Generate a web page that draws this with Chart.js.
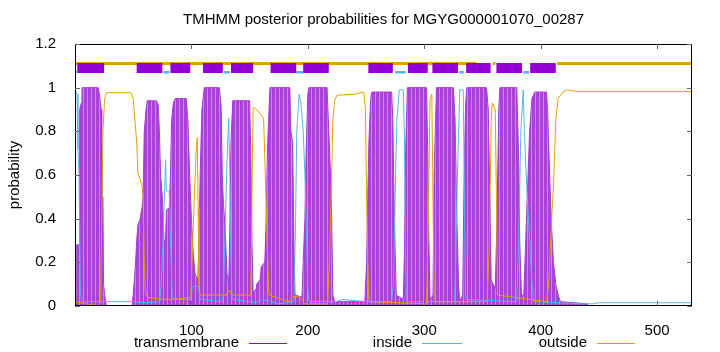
<!DOCTYPE html>
<html>
<head>
<meta charset="utf-8">
<script src="https://cdn.jsdelivr.net/npm/chart.js@4.4.1/dist/chart.umd.min.js"></script>
<style>
  html, body { margin: 0; padding: 0; background: #fff; }
</style>
</head>
<body>
<canvas id="tmhmmChart" width="720" height="352"></canvas>
<script>
// posterior probabilities: [residue, probability]
const tmProb = [
  [0,0.02],[1,0.02],[1.5,0.28],[3.5,0.28],[4,0.9],[5.5,0.93],[6,1.0],[20,1.0],[21,0.97],[22.5,0.9],[23,0.5],[24,0.5],[24.5,0.1],[26,0.03],[27,0],
  [49,0],[50,0.05],[51,0.12],[52,0.2],[53,0.3],[54,0.37],[56,0.4],[57.5,0.45],[58.5,0.5],[59.5,0.8],[61,0.9],[62,0.94],[70,0.94],[71.5,0.92],[72.5,0.8],
  [73.5,0.6],[75,0.5],[76.5,0.3],[77.8,0.3],[78.5,0.44],[81,0.45],[82,0.6],[83,0.85],[84.5,0.93],[86,0.95],[95.5,0.95],[97,0.85],[98.5,0.6],[100,0.4],
  [101.5,0.25],[103,0.15],[104.5,0.13],[105.5,0.12],[106.5,0.3],[107.5,0.6],[109,0.9],[111,1.0],[124,1.0],[125.5,0.92],[126.5,0.6],[127.5,0.47],[129,0.35],
  [130.5,0.15],[132,0.1],[133,0.35],[134,0.75],[135.5,0.94],[150,0.94],[151,0.7],[152,0.3],[153,0.06],[155.5,0.08],[156,0.1],[159,0.12],[160,0.18],
  [163,0.2],[164,0.35],[165.5,0.75],[167.5,1.0],[184.5,1.0],[185.5,0.8],[187,0.75],[188,0.3],[189,0.05],[195,0.04],[196,0.2],[197.5,0.4],[198.5,0.7],
  [200,0.97],[201,1.0],[216.5,1.0],[218,0.8],[219.5,0.6],[220.5,0.4],[221.5,0.05],[223,0.02],[249,0.02],[250.5,0.2],[251.5,0.5],[252.5,0.76],[254,0.95],
  [255,0.98],[272,0.98],[273,0.85],[274,0.5],[275,0.25],[276,0.05],[282,0.03],[283,0.25],[284,0.7],[285.5,1.0],[302,1.0],[303,0.7],[304,0.3],[305,0.03],
  [307.5,0.05],[308.5,0.6],[310.5,1.0],[325,1.0],[326.5,0.85],[328,0.4],[329.5,0.1],[330.5,0.02],[333,0.05],[334,0.5],[335.5,0.92],[336.5,1.0],
  [353.5,1.0],[355,0.9],[356.5,0.45],[357.5,0.12],[361,0.08],[362.5,0.4],[364,0.9],[365,1.0],[379.5,1.0],[381,0.7],[382,0.3],[383.5,0.05],[385.5,0.05],
  [386.5,0.2],[388.5,0.5],[390.5,0.8],[392.5,0.95],[395,0.98],[405,0.98],[406,0.9],[408,0.55],[409.5,0.35],[411,0.2],[413,0.1],[415,0.05],[417,0.02],
  [440,0.01],[441,0],[530,0]
];
const insideProb = [
  [0,0.98],[1,0.98],[1.8,0.97],[2.5,0.72],[3.5,0.6],[4.5,0.1],[5.5,0.02],[50,0.02],[60,0.015],[73,0.02],[74,0.1],[75.5,0.28],[77.8,0.67],[78.5,0.53],
  [81,0.52],[82,0.3],[83.5,0.05],[85,0.03],[99.5,0.03],[100.5,0.08],[102,0.09],[106,0.09],[107.5,0.03],[126,0.02],[127.5,0.05],[129,0.35],[130.5,0.65],
  [132,0.86],[133,0.6],[134,0.2],[135,0.03],[150,0.02],[155,0.015],[160,0.03],[165,0.025],[175,0.01],[188,0.02],[189.5,0.4],[190.5,0.8],[192.5,0.97],
  [194,0.93],[196,0.8],[197.5,0.6],[199,0.3],[200,0.08],[201,0.02],[224,0.02],[230,0.03],[250,0.02],[272,0.02],[273.5,0.1],[275,0.5],[276.5,0.85],
  [278.5,0.99],[282,0.99],[283,0.77],[283.8,0.3],[284.5,0.02],[326,0.02],[327,0.2],[328.5,0.6],[330.5,0.99],[333.5,0.99],[334.5,0.5],[335.5,0.03],
  [379.5,0.02],[381,0.3],[383,0.8],[385,0.99],[386,0.8],[388,0.55],[390,0.35],[392,0.15],[394,0.02],[436,0.01],[445,0.01],[450,0.015],[530,0.015]
];
const outsideProb = [
  [0,0.02],[20,0.0],[22,0.02],[23,0.4],[24,0.8],[25.5,0.95],[27,0.977],[48,0.977],[50,0.95],[51.5,0.85],[53,0.75],[54,0.61],[56,0.58],[57.5,0.55],
  [58.5,0.5],[59.5,0.2],[60.5,0.06],[62,0.04],[75,0.03],[85,0.03],[99.5,0.04],[101,0.28],[102.5,0.5],[104,0.7],[105,0.77],[105.8,0.45],[106.5,0.1],
  [107.5,0.05],[130,0.05],[131.5,0.07],[133,0.07],[134.5,0.05],[151,0.05],[152,0.5],[153,0.91],[156,0.9],[159,0.88],[162,0.86],[163.5,0.6],[165,0.3],
  [166.5,0.05],[184,0.02],[186,0.04],[192,0.045],[195,0.03],[197,0.01],[217,0.01],[218.5,0.2],[220,0.5],[221.5,0.85],[223,0.94],[225,0.965],[240,0.97],
  [248,0.98],[249.5,0.9],[250.5,0.5],[251.5,0.2],[252.5,0.02],[302,0.01],[303.5,0.4],[305,0.95],[306.5,0.97],[307.5,0.5],[308.5,0.02],[354,0.02],
  [356,0.3],[357.5,0.85],[358.5,0.93],[361,0.9],[362,0.5],[363,0.05],[405,0.02],[407,0.1],[409,0.35],[411,0.55],[413,0.85],[415,0.95],[419,0.98],
  [423,0.99],[431,0.982],[530,0.982]
];

// predicted topology segments (residues)
const tmStart = [2, 53, 82, 110, 134, 168, 196, 252, 286, 307, 336, 362, 391];
const tmEnd   = [25, 75, 99, 127, 153, 190, 218, 273, 303, 329, 357, 384, 413];
const inStart = [0, 76, 128, 190, 275, 330, 385];
const inEnd   = [2, 81, 133, 196, 284, 334, 390];
const outStart = [0, 359, 414];
const outEnd   = [345, 361, 530];

const xTicks = [100, 200, 300, 400, 500];
const yTicks = [0, 0.2, 0.4, 0.6, 0.8, 1, 1.2];

const FONT = '"Liberation Sans", Arial, sans-serif';
const purple = '#9400d3', skyblue = '#56b4e9', orange = '#e69f00';

const pts = arr => arr.map(p => ({ x: p[0], y: p[1] }));
const segs = (starts, ends, level) =>
  starts.flatMap((s, i) => [{ x: s, y: level }, { x: ends[i], y: level }, { x: ends[i], y: null }]);

// striped fill to mimic gnuplot impulses
let stripe = document.createElement('canvas');
stripe.width = 4; stripe.height = 1;
let sctx = stripe.getContext('2d');
sctx.fillStyle = '#ad40dd'; sctx.fillRect(0, 0, 4, 1);
sctx.fillStyle = '#cb86e8'; sctx.fillRect(3, 0, 1, 1);

let canvas = document.getElementById('tmhmmChart');
let tmFill = canvas.getContext('2d').createPattern(stripe, 'repeat');

const decorations = {
  id: 'decorations',
  afterDraw(chart) {
    let { ctx, chartArea: a, scales } = chart;
    ctx.save();
    // frame
    ctx.strokeStyle = '#000';
    ctx.lineWidth = 1;
    ctx.strokeRect(a.left + 0.5, a.top + 0.5, a.right - a.left - 1, a.bottom - a.top - 1);
    // inward ticks
    ctx.strokeStyle = '#666';
    ctx.beginPath();
    xTicks.forEach(v => {
      let px = Math.round(scales.x.getPixelForValue(v)) + 0.5;
      ctx.moveTo(px, a.bottom); ctx.lineTo(px, a.bottom - 5);
      ctx.moveTo(px, a.top); ctx.lineTo(px, a.top + 5);
    });
    yTicks.forEach(v => {
      let py = Math.round(scales.y.getPixelForValue(v)) + 0.5;
      ctx.moveTo(a.left, py); ctx.lineTo(a.left + 5, py);
      ctx.moveTo(a.right, py); ctx.lineTo(a.right - 5, py);
    });
    ctx.stroke();

    ctx.fillStyle = '#000';
    ctx.font = '15px ' + FONT;
    ctx.textBaseline = 'middle';
    // title
    ctx.textAlign = 'center';
    ctx.fillText('TMHMM posterior probabilities for MGYG000001070_00287', (a.left + a.right) / 2, 20);
    // y axis label
    ctx.save();
    ctx.translate(15, (a.top + a.bottom) / 2);
    ctx.rotate(-Math.PI / 2);
    ctx.fillText('probability', 0, 0);
    ctx.restore();
    // key
    const key = [
      ['transmembrane', 239, 249, 287, purple],
      ['inside', 412, 422, 462, skyblue],
      ['outside', 587, 597, 635, orange],
    ];
    ctx.textAlign = 'right';
    key.forEach(([label, tx, x0, x1, col]) => {
      ctx.fillStyle = '#000';
      ctx.fillText(label, tx, 343);
      ctx.strokeStyle = col;
      ctx.lineWidth = 1;
      ctx.beginPath();
      ctx.moveTo(x0, 343.5); ctx.lineTo(x1, 343.5);
      ctx.stroke();
    });
    ctx.restore();
  },
};

let tmChart = new Chart(canvas, {
  type: 'line',
  data: {
    datasets: [
      { label: 'tm boxes', data: segs(tmStart, tmEnd, 1.09), borderColor: purple, borderWidth: 10, borderCapStyle: 'butt', order: 0 },
      { label: 'outside top', data: segs(outStart, outEnd, 1.111), borderColor: orange, borderWidth: 3, borderCapStyle: 'butt', order: 1 },
      { label: 'inside top', data: segs(inStart, inEnd, 1.071), borderColor: skyblue, borderWidth: 2.5, borderCapStyle: 'butt', order: 2 },
      { label: 'outside', data: pts(outsideProb), borderColor: orange, borderWidth: 1, order: 3 },
      { label: 'inside', data: pts(insideProb), borderColor: skyblue, borderWidth: 1, order: 4 },
      { label: 'transmembrane', data: pts(tmProb), borderColor: '#a43ad9', backgroundColor: tmFill, fill: 'origin', borderWidth: 1, order: 5 },
    ],
  },
  options: {
    responsive: false,
    animation: false,
    spanGaps: false,
    elements: { point: { radius: 0 }, line: { tension: 0 } },
    layout: { padding: { left: 0, right: 28, top: 44, bottom: 0 } },
    plugins: { legend: { display: false }, title: { display: false }, tooltip: { enabled: false } },
    scales: {
      x: {
        type: 'linear',
        min: 0,
        max: 530,
        afterFit: s => { s.height = 46; },
        afterBuildTicks: s => { s.ticks = xTicks.map(v => ({ value: v })); },
        grid: { display: false },
        border: { display: false },
        ticks: { color: '#000', padding: 8, maxRotation: 0, font: { family: FONT, size: 15 } },
      },
      y: {
        min: 0,
        max: 1.2,
        afterFit: s => { s.width = 75; },
        afterBuildTicks: s => { s.ticks = yTicks.map(v => ({ value: v })); },
        grid: { display: false },
        border: { display: false },
        ticks: {
          color: '#000',
          padding: 11,
          font: { family: FONT, size: 15 },
          callback: v => String(Math.round(v * 10) / 10),
        },
      },
    },
  },
  plugins: [decorations],
});
</script>
</body>
</html>
